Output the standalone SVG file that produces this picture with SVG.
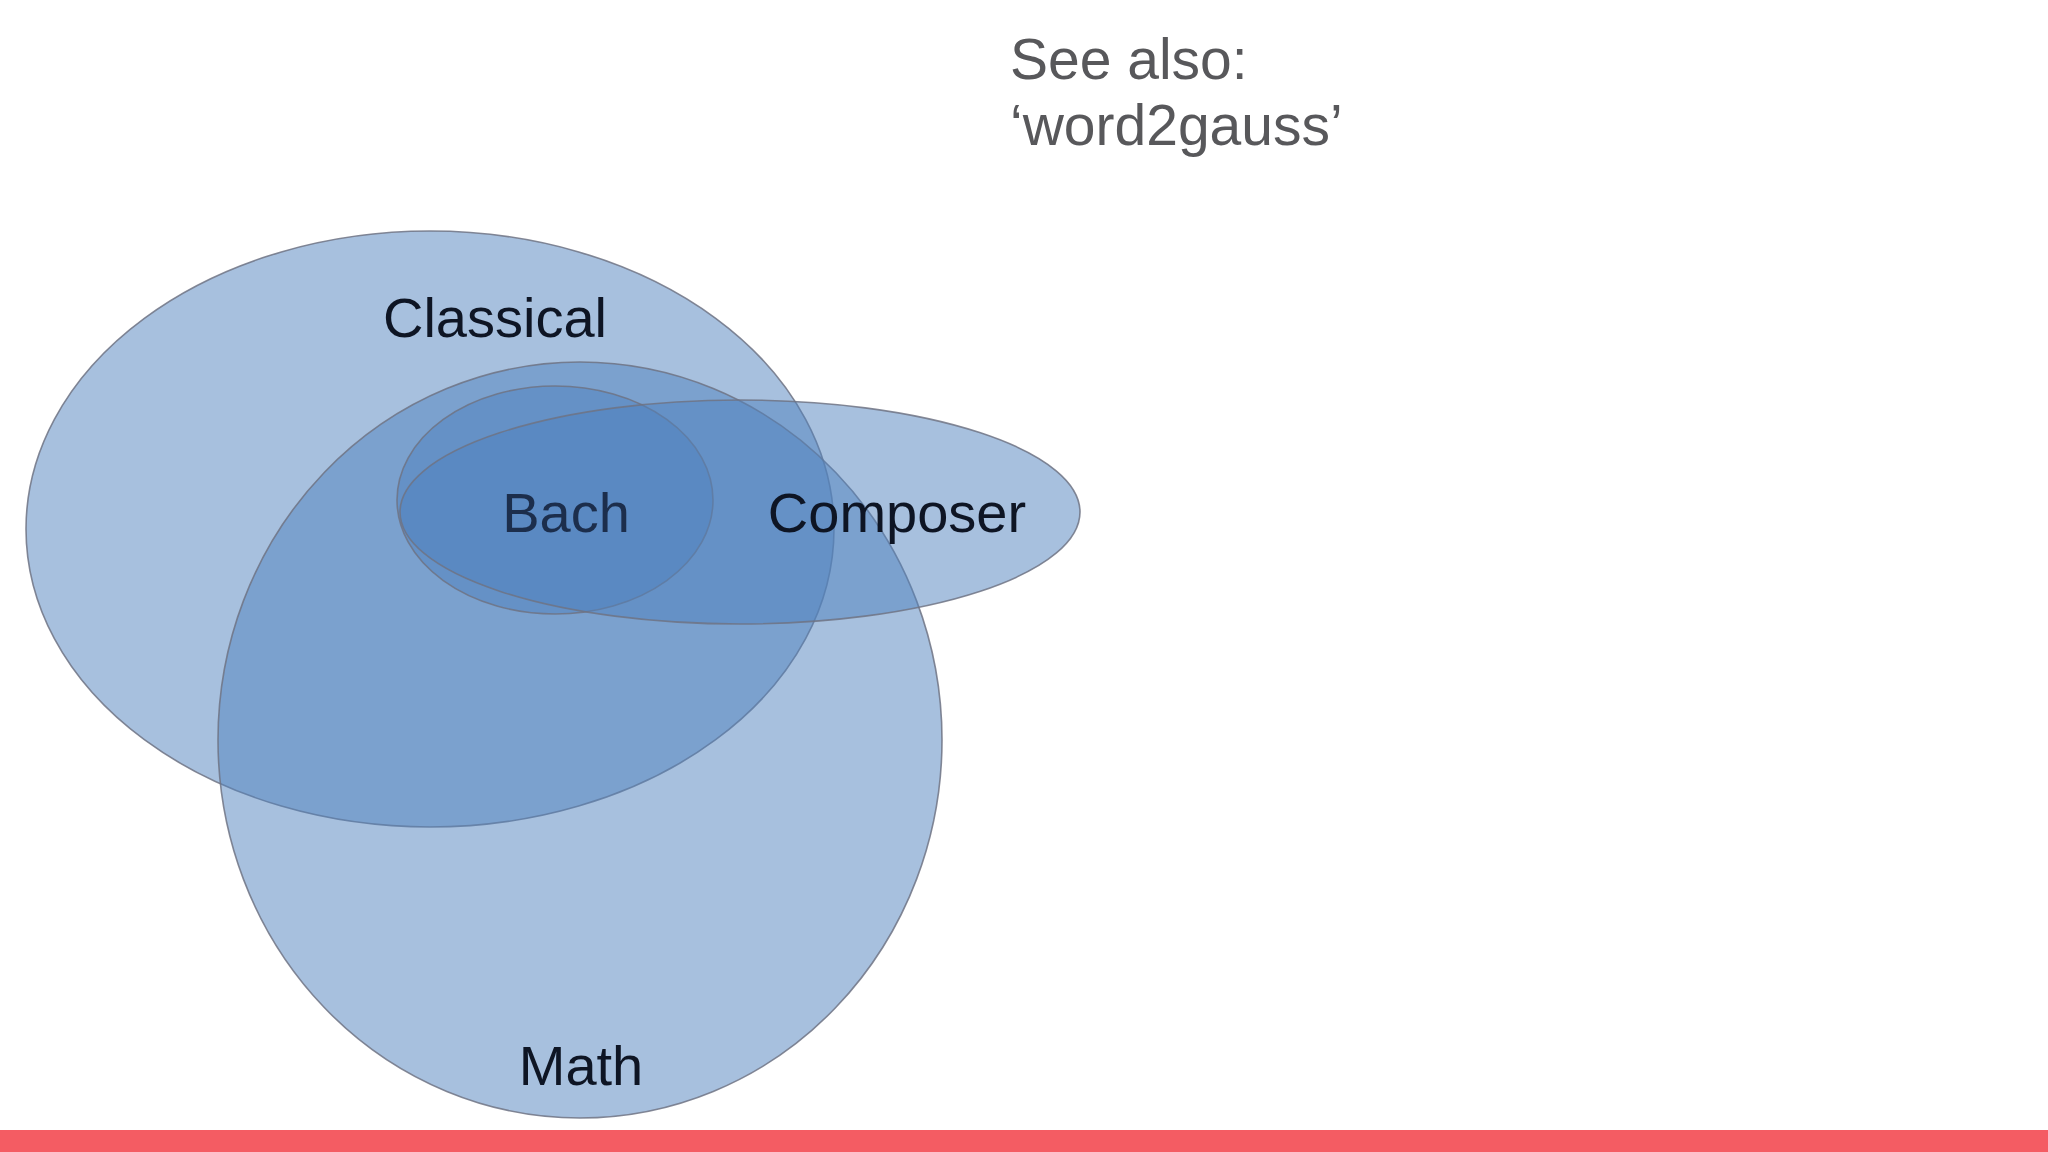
<svg xmlns="http://www.w3.org/2000/svg" width="2048" height="1152" viewBox="0 0 2048 1152">
<style>
.set{fill:rgb(79,129,189);fill-opacity:0.5;stroke:#6f7384;stroke-width:1.6;stroke-opacity:0.85}
.lbl{font-family:"Liberation Sans",Arial,Helvetica,sans-serif;font-size:56px;fill:#0e1524;text-anchor:middle}
.note{font-family:"Liberation Sans",Arial,Helvetica,sans-serif;font-size:57px;fill:#58585b}
</style>
<rect width="2048" height="1152" fill="#ffffff"/>
<g id="classical"><ellipse class="set" cx="430" cy="529" rx="404" ry="298"/></g>
<g id="math"><ellipse class="set" cx="580" cy="740" rx="362" ry="378"/></g>
<g id="bach"><ellipse class="set" cx="555" cy="500" rx="158" ry="114"/></g>
<g id="composer"><ellipse class="set" cx="740" cy="512" rx="340" ry="112"/></g>
<g id="connectors"></g>
<g id="labels">
<text class="lbl" x="495" y="337">Classical</text>
<text class="lbl" x="566" y="532" style="fill:#1c2e4c">Bach</text>
<text class="lbl" x="897" y="532">Composer</text>
<text class="lbl" x="581" y="1085">Math</text>
</g>
<g id="note">
<text class="note" x="1010" y="79">See also:</text>
<text class="note" x="1010" y="145">‘word2gauss’</text>
</g>
<rect x="0" y="1130" width="2048" height="22" fill="#f45c63"/>
</svg>
